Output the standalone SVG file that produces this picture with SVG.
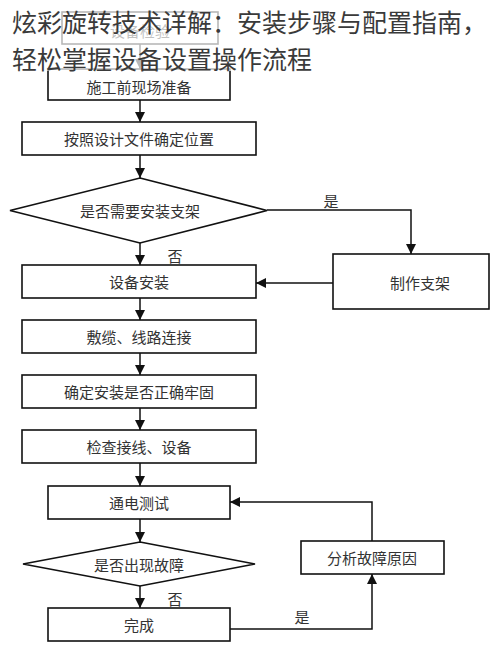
<svg xmlns="http://www.w3.org/2000/svg" width="500" height="650" viewBox="0 0 500 650">
<defs>
<style>
.box{fill:#fff;stroke:#111;stroke-width:1.6}
.lbl{font-family:"Noto Sans CJK SC","Noto Sans CJK TC",sans-serif;font-size:15px;fill:#333;text-anchor:middle;dominant-baseline:central}
.edge{fill:none;stroke:#111;stroke-width:1.5}
.title{font-family:"Noto Sans CJK SC","Noto Sans CJK TC",sans-serif;font-size:25px;fill:#3a3a3a}
</style>
<marker id="ah" viewBox="0 0 10 10" refX="10" refY="5" markerWidth="10" markerHeight="10" markerUnits="userSpaceOnUse" orient="auto">
<path d="M0,0 L10,5 L0,10 z" fill="#111"/>
</marker>
</defs>
<rect width="500" height="650" fill="#fff"/>
<g id="connectors">
<path class="edge" d="M140,44 V69" marker-end="url(#ah)"/>
<path class="edge" d="M140,100 V122" marker-end="url(#ah)"/>
<path class="edge" d="M140,155 V178" marker-end="url(#ah)"/>
<path class="edge" d="M140,243 V265" marker-end="url(#ah)"/>
<path class="edge" d="M267,210 H411 V254" marker-end="url(#ah)"/>
<path class="edge" d="M333,283 H256" marker-end="url(#ah)"/>
<path class="edge" d="M140,298 V320" marker-end="url(#ah)"/>
<path class="edge" d="M140,353 V375" marker-end="url(#ah)"/>
<path class="edge" d="M140,408 V430" marker-end="url(#ah)"/>
<path class="edge" d="M140,463 V486" marker-end="url(#ah)"/>
<path class="edge" d="M140,519 V542" marker-end="url(#ah)"/>
<path class="edge" d="M140,586 V608" marker-end="url(#ah)"/>
<path class="edge" d="M230,629 H372 V574" marker-end="url(#ah)"/>
<path class="edge" d="M372,541 V502 H230" marker-end="url(#ah)"/>
<text class="lbl" x="331" y="200">是</text>
<text class="lbl" x="175" y="255">否</text>
<text class="lbl" x="175" y="598">否</text>
<text class="lbl" x="302" y="616">是</text>
</g>
<g id="n0"><rect class="box" x="62" y="12" width="156" height="32"/><text class="lbl" x="140" y="30">设备检验</text></g>
<g id="n1"><rect class="box" x="48" y="69" width="182" height="31"/><text class="lbl" x="139" y="86">施工前现场准备</text></g>
<g id="n2"><rect class="box" x="22" y="122" width="234" height="33"/><text class="lbl" x="139" y="138.5">按照设计文件确定位置</text></g>
<g id="n3"><polygon class="box" points="140,178 267,210.5 140,243 10,210.5"/><text class="lbl" x="140" y="210.5">是否需要安装支架</text></g>
<g id="n4"><rect class="box" x="333" y="254" width="156" height="55"/><text class="lbl" x="420" y="282">制作支架</text></g>
<g id="n5"><rect class="box" x="22" y="265" width="234" height="33"/><text class="lbl" x="139" y="281.5">设备安装</text></g>
<g id="n6"><rect class="box" x="22" y="320" width="234" height="33"/><text class="lbl" x="139" y="336.5">敷缆、线路连接</text></g>
<g id="n7"><rect class="box" x="22" y="375" width="234" height="33"/><text class="lbl" x="139" y="391.5">确定安装是否正确牢固</text></g>
<g id="n8"><rect class="box" x="22" y="430" width="234" height="33"/><text class="lbl" x="139" y="446.5">检查接线、设备</text></g>
<g id="n9"><rect class="box" x="48" y="486" width="182" height="33"/><text class="lbl" x="139" y="502.5">通电测试</text></g>
<g id="n10"><polygon class="box" points="140,542 255,564 140,586 23,564"/><text class="lbl" x="139" y="564">是否出现故障</text></g>
<g id="n11"><rect class="box" x="48" y="608" width="182" height="33"/><text class="lbl" x="139" y="624.5">完成</text></g>
<g id="n12"><rect class="box" x="301" y="541" width="143" height="33"/><text class="lbl" x="372" y="557.5">分析故障原因</text></g>
<rect x="0" y="0" width="500" height="71" fill="#fff" opacity="0.7"/>
<g id="title">
<text class="title" x="12" y="32">炫彩旋转技术详解：安装步骤与配置指南，</text>
<text class="title" x="12" y="69">轻松掌握设备设置操作流程</text>
</g>
</svg>
